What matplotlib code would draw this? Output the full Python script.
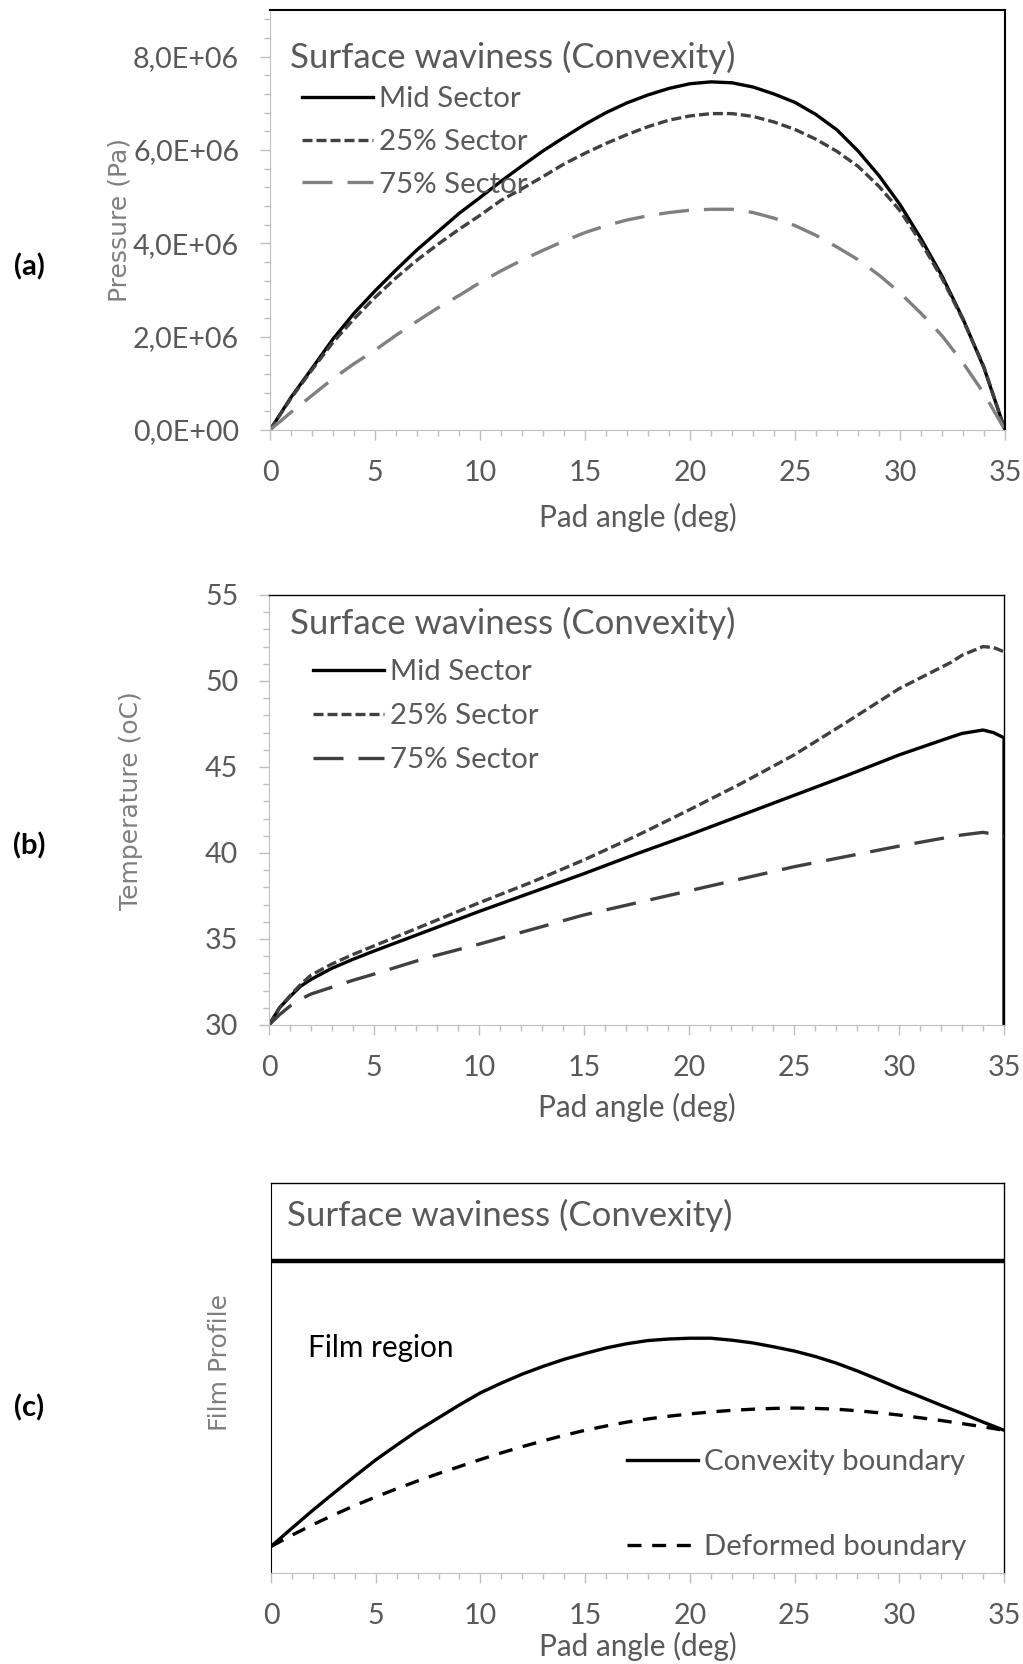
import numpy as np
import matplotlib
matplotlib.use("Agg")
import matplotlib.pyplot as plt
from matplotlib.ticker import MultipleLocator, FuncFormatter

plt.rcParams['font.family'] = ['Lato', 'DejaVu Sans']

# (a) pressure (Pa), read every degree
x_a = list(range(0, 36))
p_mid = [0, 0.70e6, 1.32e6, 1.95e6, 2.50e6, 2.98e6, 3.43e6, 3.86e6, 4.25e6, 4.64e6,
         4.98e6, 5.33e6, 5.66e6, 5.98e6, 6.27e6, 6.55e6, 6.80e6, 7.01e6, 7.18e6, 7.32e6,
         7.42e6, 7.46e6, 7.44e6, 7.35e6, 7.20e6, 7.02e6, 6.76e6, 6.43e6, 5.98e6, 5.45e6,
         4.83e6, 4.10e6, 3.30e6, 2.38e6, 1.33e6, 0]
p_25 = [0, 0.68e6, 1.29e6, 1.88e6, 2.38e6, 2.84e6, 3.26e6, 3.64e6, 3.98e6, 4.30e6,
        4.60e6, 4.92e6, 5.17e6, 5.43e6, 5.70e6, 5.93e6, 6.14e6, 6.33e6, 6.50e6, 6.64e6,
        6.73e6, 6.78e6, 6.78e6, 6.72e6, 6.60e6, 6.44e6, 6.23e6, 5.97e6, 5.65e6, 5.22e6,
        4.70e6, 4.02e6, 3.25e6, 2.36e6, 1.35e6, 0]
p_75 = [0, 0.38e6, 0.74e6, 1.10e6, 1.42e6, 1.71e6, 2.03e6, 2.33e6, 2.62e6, 2.88e6,
        3.16e6, 3.41e6, 3.64e6, 3.85e6, 4.05e6, 4.23e6, 4.38e6, 4.50e6, 4.59e6, 4.66e6,
        4.71e6, 4.73e6, 4.73e6, 4.66e6, 4.54e6, 4.38e6, 4.17e6, 3.92e6, 3.65e6, 3.32e6,
        2.94e6, 2.50e6, 2.02e6, 1.44e6, 0.78e6, 0]

# (b) temperature (oC)
x_b = [0, 0.5, 1, 1.5, 2, 3, 4, 5, 7.5, 10, 12.5, 15, 17.5, 20, 22.5, 25, 27.5, 30,
       32.5, 33, 34, 34.5, 35]
t_mid = [30, 31.0, 31.65, 32.25, 32.65, 33.3, 33.82, 34.3, 35.45, 36.6, 37.7, 38.8, 39.95,
         41.05, 42.2, 43.35, 44.5, 45.7, 46.75, 46.95, 47.15, 47.0, 46.7]
t_25 = [30, 31.0, 31.7, 32.35, 32.9, 33.55, 34.1, 34.6, 35.85, 37.1, 38.3, 39.6, 41.0,
        42.5, 44.05, 45.7, 47.6, 49.55, 51.1, 51.5, 52.0, 51.95, 51.7]
t_75 = [30, 30.6, 31.1, 31.5, 31.8, 32.2, 32.6, 32.96, 33.9, 34.7, 35.55, 36.4, 37.1,
        37.8, 38.5, 39.2, 39.8, 40.4, 40.95, 41.05, 41.2, 41.1, 40.95]
# mid sector series ends with a drop back to 30 at 35 deg
t_mid_end_x = [35]
t_mid_end = [30]

# (c) film profile, arbitrary units
x_c = list(range(0, 36))
convex = [0.068, 0.115, 0.161, 0.205, 0.248, 0.290, 0.328, 0.365, 0.398, 0.431, 0.462,
          0.487, 0.510, 0.530, 0.548, 0.563, 0.577, 0.588, 0.596, 0.600, 0.602, 0.602,
          0.597, 0.590, 0.580, 0.569, 0.555, 0.538, 0.518, 0.496, 0.473, 0.452, 0.430,
          0.409, 0.387, 0.366]
deformed = [0.068, 0.097, 0.124, 0.149, 0.173, 0.195, 0.216, 0.236, 0.255, 0.273, 0.291,
            0.308, 0.324, 0.339, 0.353, 0.366, 0.377, 0.387, 0.395, 0.402, 0.408, 0.413,
            0.417, 0.420, 0.422, 0.423, 0.422, 0.420, 0.416, 0.411, 0.405, 0.398, 0.391,
            0.383, 0.375, 0.366]
x_top = [0, 35]
top_bound = [0.80, 0.80]

title = "Surface waviness (Convexity)"
txt_col = '#595959'
axis_col = '#bfbfbf'
fs_tick = 20.6
fs_leg = 21.2
fs_lab = 21.4
fs_title = 25
lw = 2.4

fig = plt.figure(figsize=(10.23, 16.64), dpi=100)
W, H = 1023, 1664


def make_ax(l, r, t, b):
    return fig.add_axes([l / W, 1 - b / H, (r - l) / W, (b - t) / H])


def style(ax, left_col, frame_lw):
    ax.spines['left'].set_color(left_col)
    ax.spines['bottom'].set_color(axis_col)
    for s in ['top', 'right']:
        ax.spines[s].set_color('black')
        ax.spines[s].set_linewidth(frame_lw)
    ax.set_xlim(0, 35)
    ax.xaxis.set_major_locator(MultipleLocator(5))
    ax.xaxis.set_minor_locator(MultipleLocator(1))
    ax.tick_params(which='major', length=7.2, width=1, color=axis_col, labelsize=fs_tick,
                   labelcolor=txt_col)
    ax.tick_params(which='minor', length=4.3, width=1, color=axis_col)
    ax.tick_params(axis='x', which='major', pad=14.5)
    ax.tick_params(axis='y', which='major', pad=15)
    ax.set_xlabel('Pad angle (deg)', fontsize=fs_lab, color=txt_col)


def add_legend(ax, anchor, spacing):
    ax.legend(loc='upper left', bbox_to_anchor=anchor, frameon=False, fontsize=fs_leg,
              labelcolor=txt_col, handlelength=2.4, handletextpad=0.2,
              labelspacing=spacing, borderpad=0, borderaxespad=0)


# ---------- (a)
ax1 = make_ax(270, 1005, 10, 430)
style(ax1, axis_col, 1.5)
ax1.plot(x_a, p_mid, color='black', lw=lw, label='Mid Sector')
ax1.plot(x_a, p_25, color='#404040', lw=lw, ls=(0, (3.0, 1.2)), label='25% Sector')
ax1.plot(x_a, p_75, color='#808080', lw=lw, ls=(0, (9, 4.5)), label='75% Sector')
ax1.set_ylim(0, 9e6)
ax1.yaxis.set_major_locator(MultipleLocator(2e6))
ax1.yaxis.set_minor_locator(MultipleLocator(0.4e6))
ax1.yaxis.set_major_formatter(FuncFormatter(lambda v, p: format(v, '.1E').replace('.', ',')))
ax1.set_ylabel('Pressure (Pa)', fontsize=18, color='#7f7f7f', family='DejaVu Sans')
ax1.yaxis.set_label_coords(-0.189, 0.5)
ax1.xaxis.set_label_coords(0.5, -0.174)
ax1.text(0.027, 0.886, title, transform=ax1.transAxes, fontsize=fs_title, color=txt_col,
         va='center', ha='left')
add_legend(ax1, (0.0435, 0.818), 0.565)

# ---------- (b)
ax2 = make_ax(269, 1004, 595, 1025)
style(ax2, axis_col, 1.0)
ax2.plot(x_b + t_mid_end_x, t_mid + t_mid_end, color='black', lw=lw, label='Mid Sector')
ax2.plot(x_b, t_25, color='#404040', lw=lw, ls=(0, (3.0, 1.2)), label='25% Sector')
ax2.plot(x_b, t_75, color='#404040', lw=lw, ls=(0, (9, 4.5)), label='75% Sector')
ax2.set_ylim(30, 55)
ax2.yaxis.set_major_locator(MultipleLocator(5))
ax2.yaxis.set_minor_locator(MultipleLocator(1))
ax2.set_ylabel('Temperature (oC)', fontsize=18, color='#7f7f7f', family='DejaVu Sans')
ax2.yaxis.set_label_coords(-0.171, 0.521)
ax2.xaxis.set_label_coords(0.5, -0.159)
ax2.text(0.0285, 0.933, title, transform=ax2.transAxes, fontsize=fs_title, color=txt_col,
         va='center', ha='left')
add_legend(ax2, (0.06, 0.85), 0.61)

# ---------- (c)
ax3 = make_ax(271, 1004, 1183, 1573)
style(ax3, 'black', 1.0)
ax3.plot(x_top, top_bound, color='black', lw=3.2, label='_nolegend_')
ax3.plot(x_c, convex, color='black', lw=lw, label='Convexity boundary')
ax3.plot(x_c, deformed, color='black', lw=lw, ls=(0, (4.2, 3.2)), label='Deformed boundary')
ax3.set_ylim(0, 1)
ax3.set_yticks([])
ax3.set_ylabel('Film Profile', fontsize=18, color='#7f7f7f', family='DejaVu Sans')
ax3.yaxis.set_label_coords(-0.053, 0.541)
ax3.xaxis.set_label_coords(0.5, -0.15)
ax3.text(0.022, 0.918, title, transform=ax3.transAxes, fontsize=fs_title, color=txt_col,
         va='center', ha='left')
ax3.text(0.05, 0.577, 'Film region', transform=ax3.transAxes, fontsize=fs_lab, color='black',
         va='center', ha='left')
add_legend(ax3, (0.486, 0.318), 2.0)

# panel letters
for lab, yy in [('(a)', 267), ('(b)', 846), ('(c)', 1408)]:
    fig.text(29 / W, 1 - yy / H, lab, fontsize=21, fontweight='bold', ha='center', va='center')

fig.savefig('out.png', dpi=100)
